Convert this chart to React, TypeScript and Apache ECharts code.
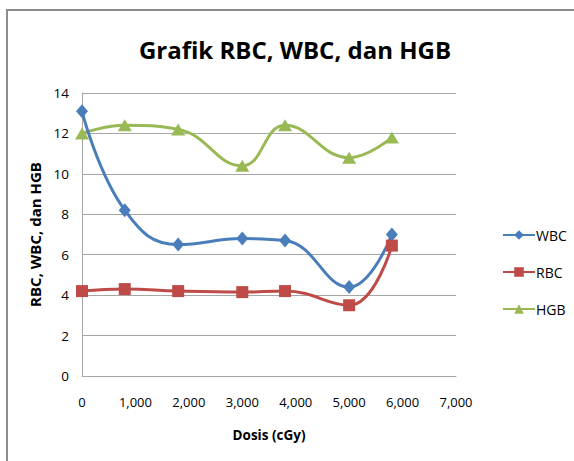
import React, { useEffect, useRef } from "react";
import * as echarts from "echarts";

const dosis = [0, 800, 1800, 3000, 3800, 5000, 5800];
const wbc = [13.1, 8.2, 6.5, 6.8, 6.7, 4.4, 7.0];
const rbc = [4.2, 4.3, 4.2, 4.15, 4.2, 3.5, 6.45];
const hgb = [12.0, 12.4, 12.2, 10.4, 12.4, 10.8, 11.8];

const FONT = "'Open Sans', 'Noto Sans', sans-serif";

export default function App() {
  const ref = useRef<HTMLDivElement>(null);
  useEffect(() => {
    if (!ref.current) return;
    const chart = echarts.init(ref.current, undefined, { renderer: "svg" });
    const pair = (ys: number[]) => dosis.map((x, i) => [x, ys[i]]);
    chart.setOption({
      animation: false,
      backgroundColor: "#ffffff",
      title: {
        text: "Grafik RBC, WBC, dan HGB",
        left: 290,
        top: 32,
        textAlign: "center",
        textStyle: { fontFamily: FONT, fontSize: 24, fontWeight: "bold", color: "#000" },
      },
      graphic: [
        { type: "line", shape: { x1: 7, y1: 10, x2: 7, y2: 461 }, style: { stroke: "#8c8c8c", lineWidth: 2 } },
        { type: "line", shape: { x1: 6, y1: 10, x2: 574, y2: 10 }, style: { stroke: "#8c8c8c", lineWidth: 2 } },
      ],
      legend: {
        orient: "vertical",
        left: 497,
        top: 223,
        itemWidth: 32,
        itemHeight: 12,
        itemGap: 23,
        textStyle: { fontFamily: FONT, fontSize: 14, color: "#000", padding: [0, 0, 0, -4] },
        data: ["WBC", "RBC", "HGB"],
      },
      grid: { left: 82, right: 118, top: 93, bottom: 85, containLabel: false },
      xAxis: {
        type: "value",
        min: 0,
        max: 7000,
        interval: 1000,
        name: "Dosis (cGy)",
        nameLocation: "middle",
        nameGap: 52,
        nameTextStyle: { fontFamily: FONT, fontSize: 13.5, fontWeight: "bold", color: "#000" },
        axisLine: { show: true, lineStyle: { color: "#a6a6a6" } },
        axisTick: { show: false },
        splitLine: { show: false },
        axisLabel: {
          fontFamily: FONT,
          fontSize: 13,
          color: "#000",
          margin: 19,
          formatter: (v: number) => v.toLocaleString("en-US"),
        },
      },
      yAxis: {
        type: "value",
        min: 0,
        max: 14,
        interval: 2,
        name: "RBC, WBC, dan HGB",
        nameLocation: "middle",
        nameGap: 39,
        nameTextStyle: { fontFamily: FONT, fontSize: 15, fontWeight: "bold", color: "#000" },
        axisLine: { show: true, lineStyle: { color: "#a6a6a6" } },
        axisTick: { show: false },
        splitLine: { show: true, lineStyle: { color: "#a6a6a6" } },
        axisLabel: { fontFamily: FONT, fontSize: 13.5, color: "#000", margin: 13 },
      },
      series: [
        {
          name: "WBC",
          type: "line",
          smooth: 0.45,
          data: pair(wbc),
          symbol: "diamond",
          symbolSize: [12, 14],
          lineStyle: { color: "#4a7ebb", width: 3 },
          itemStyle: { color: "#4a7ebb" },
          z: 3,
        },
        {
          name: "RBC",
          type: "line",
          smooth: 0.45,
          data: pair(rbc),
          symbol: "rect",
          symbolSize: 12,
          lineStyle: { color: "#be4b48", width: 3 },
          itemStyle: { color: "#be4b48" },
          z: 4,
        },
        {
          name: "HGB",
          type: "line",
          smooth: 0.45,
          data: pair(hgb),
          symbol: "triangle",
          symbolSize: [14, 12],
          lineStyle: { color: "#98b954", width: 3 },
          itemStyle: { color: "#98b954" },
          z: 2,
        },
      ],
    });
    return () => chart.dispose();
  }, []);
  return <div ref={ref} style={{ position: "fixed", left: 0, top: 0, width: 574, height: 461 }} />;
}
